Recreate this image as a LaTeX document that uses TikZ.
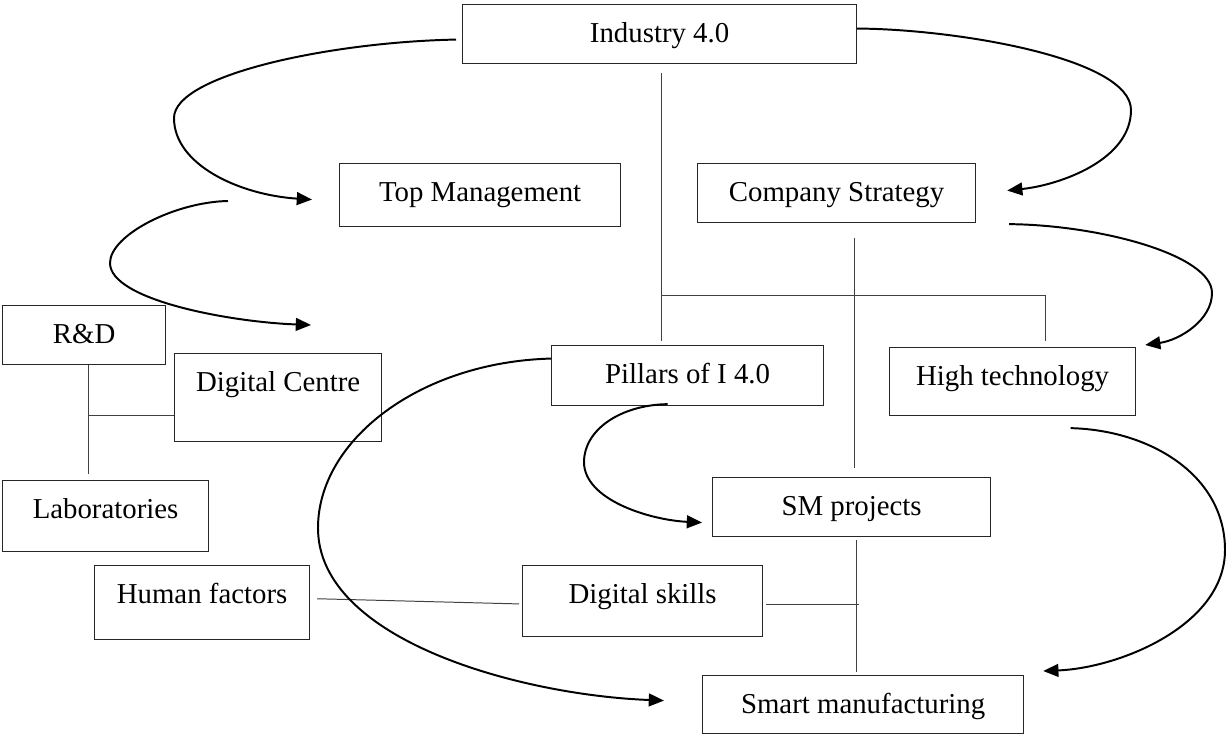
\documentclass[tikz,border=0pt]{standalone}
\usepackage{fontspec}
\setmainfont{Liberation Serif}
\usepackage{tikz}
\usetikzlibrary{arrows.meta}
\tikzset{
  box/.style 2 args={draw=black!85, line width=0.8pt, anchor=north west, inner sep=0pt,
    minimum width=#1, text height=0.95cm, text depth=#2},
  link/.style={draw=black!75, line width=0.7pt},
  flow/.style={line width=1.4pt, -{Triangle[length=0.38cm, width=0.32cm]}}
}

\begin{document}
\begin{tikzpicture}[x=0.025cm, y=-0.025cm, font=\fontsize{20.5}{24}\selectfont]
\useasboundingbox (0,0) rectangle (1226,735);
% ===== boxes (placed by their top left corner) =====
\node[box={9.85cm}{0.525cm}]  (ind) at (462,4)   {Industry 4.0};
\node[box={7.025cm}{0.625cm}] (tm)  at (339,163) {Top Management};
\node[box={6.95cm}{0.525cm}]  (cs)  at (697,163) {Company Strategy};
\node[box={4.075cm}{0.525cm}] (rd)  at (2,305)   {R\&D};
\node[box={5.175cm}{1.25cm}]  (dc)  at (174,353) {Digital Centre};
\node[box={5.15cm}{0.825cm}]  (lab) at (2,480)   {Laboratories};
\node[box={5.375cm}{0.9cm}]   (hf)  at (94,565)  {Human factors};
\node[box={6.0cm}{0.825cm}]   (ds)  at (522,565) {Digital skills};
\node[box={6.8cm}{0.55cm}]    (pil) at (551,345) {Pillars of I 4.0};
\node[box={6.15cm}{0.75cm}]   (ht)  at (889,347) {High technology};
\node[box={6.95cm}{0.525cm}]  (smp) at (712,477) {SM projects};
\node[box={8.025cm}{0.5cm}]   (sm)  at (702,675) {Smart manufacturing};
% ===== tree lines =====
\coordinate (jl) at (661,295);
\coordinate (jr) at (1045,295);
\coordinate (jc) at (854,295);
\coordinate (jd) at (856,604);
\coordinate (jrd) at (88,415);
\draw[link, shorten <=0.225cm, shorten >=0.1cm] (ind.south -| jl) -- (pil.north -| jl);
\draw[link] (jl) -- (jr);
\draw[link, shorten >=0.15cm] (jr) -- (ht.north -| jr);
\draw[link, shorten <=0.375cm, shorten >=0.225cm] (cs.south -| jc) -- (smp.north -| jc);
\draw[link, shorten <=0.075cm, shorten >=0.075cm] (smp.south -| jd) -- (sm.north -| jd);
\draw[link, shorten <=0.075cm, shorten >=-0.075cm] (ds.east |- jd) -- (jd);
\draw[link, shorten <=0.175cm, shorten >=0.075cm] ([yshift=0.1cm]hf.east) -- (ds.west |- jd);
\draw[link, shorten >=0.15cm] (rd.south -| jrd) -- (lab.north -| jrd);
\draw[link] (jrd) -- (dc.west |- jrd);
% ===== curved arrows =====
\coordinate (loopa) at (228,201);
\coordinate (loopb) at (311,325);
\draw[flow] ([xshift=-0.15cm, yshift=-0.1375cm]ind.west) .. controls (330,42) and (174,75) .. (174,118)
  .. controls (174,165) and (240,195) .. ([xshift=-0.675cm, yshift=-0.1125cm]tm.west);
\draw[flow] (loopa) .. controls (175,202) and (110,235) .. (110,263)
  .. controls (110,300) and (230,322) .. (loopb);
\draw[flow] ([yshift=0.1375cm]ind.east) .. controls (955,29) and (1131,58) .. (1131,110)
  .. controls (1131,160) and (1060,185) .. ([xshift=0.775cm, yshift=0.0625cm]cs.east);
\draw[flow] ([xshift=0.825cm, yshift=-0.025cm]cs.south east) .. controls (1100,225) and (1212,255) .. (1212,293)
  .. controls (1212,320) and (1180,340) .. ([xshift=0.225cm, yshift=0.05cm]ht.north east);
\draw[flow] ([xshift=-0.5cm, yshift=0.05cm]pil.south) .. controls (620,405) and (584,430) .. (584,462)
  .. controls (584,500) and (650,520) .. ([xshift=-0.25cm, yshift=-0.3875cm]smp.west);
\draw[flow] ([yshift=0.425cm]pil.west) .. controls (420,362) and (318,440) .. (318,528)
  .. controls (318,640) and (520,695) .. ([xshift=-0.95cm, yshift=0.1cm]sm.west);
\draw[flow] ([xshift=1.45cm, yshift=-0.3cm]ht.south) .. controls (1150,430) and (1225,475) .. (1225,550)
  .. controls (1225,625) and (1120,668) .. ([xshift=0.475cm, yshift=0.1cm]sm.north east);
\end{tikzpicture}
\end{document}
